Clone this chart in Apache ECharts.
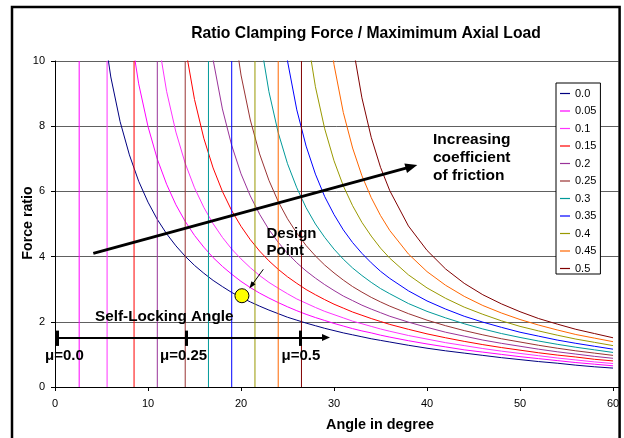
<!DOCTYPE html>
<html>
<head>
<meta charset="utf-8">
<script src="https://cdn.jsdelivr.net/npm/echarts@6/dist/echarts.min.js"></script>
<style>html,body{margin:0;padding:0;background:#fff}#c{width:624px;height:438px}</style>
</head>
<body>
<div id="c"></div>
<script>
const _ = null;
// angle in degree (x values shared by all curves)
const angles = [0,1,2,3,4,5,6,7,8,9,10,11,12,13,14,15,16,17,18,19,20,21,22,23,24,25,26,27,28,29,30,31,32,33,34,35,36,38,40,42,44,46,48,50,52,54,56,58,60];
// legend / series names (coefficient of friction)
const seriesNames = ['0.0','0.05','0.1','0.15','0.2','0.25','0.3','0.35','0.4','0.45','0.5'];
// force ratio (null = outside the plotted range)
const mu000 = [_,_,_,_,_,11.43,9.51,8.14,7.12,6.31,5.67,5.14,4.70,4.33,4.01,3.73,3.49,3.27,3.08,2.90,2.75,2.61,2.48,2.36,2.25,2.14,2.05,1.96,1.88,1.80,1.73,1.66,1.60,1.54,1.48,1.43,1.38,1.28,1.19,1.11,1.04,0.97,0.90,0.84,0.78,0.73,0.67,0.62,0.58];
const mu005 = [_,_,_,_,_,_,_,_,11.12,9.30,7.99,6.99,6.22,5.59,5.08,4.65,4.29,3.97,3.70,3.46,3.24,3.05,2.88,2.73,2.59,2.46,2.34,2.23,2.13,2.04,1.95,1.87,1.79,1.72,1.66,1.59,1.53,1.42,1.32,1.23,1.14,1.07,1.00,0.93,0.87,0.81,0.75,0.70,0.65];
const mu010 = [_,_,_,_,_,_,_,_,_,_,_,10.80,9.07,7.82,6.86,6.11,5.51,5.01,4.59,4.23,3.93,3.66,3.42,3.21,3.03,2.86,2.70,2.57,2.44,2.32,2.22,2.12,2.02,1.94,1.86,1.78,1.71,1.58,1.47,1.36,1.27,1.18,1.10,1.03,0.96,0.89,0.83,0.77,0.72];
const mu015 = [_,_,_,_,_,_,_,_,_,_,_,_,_,_,10.44,8.82,7.63,6.72,6.00,5.41,4.93,4.52,4.17,3.87,3.61,3.38,3.18,2.99,2.83,2.68,2.54,2.42,2.30,2.20,2.10,2.01,1.92,1.77,1.63,1.51,1.40,1.30,1.21,1.13,1.05,0.98,0.92,0.85,0.80];
const mu020 = [_,_,_,_,_,_,_,_,_,_,_,_,_,_,_,_,12.19,10.04,8.53,7.41,6.54,5.86,5.30,4.83,4.44,4.10,3.81,3.56,3.34,3.14,2.96,2.79,2.65,2.51,2.39,2.28,2.17,1.99,1.83,1.68,1.56,1.44,1.34,1.25,1.16,1.08,1.01,0.94,0.88];
const mu025 = [_,_,_,_,_,_,_,_,_,_,_,_,_,_,_,_,_,_,_,11.51,9.57,8.19,7.15,6.34,5.69,5.16,4.72,4.34,4.02,3.74,3.50,3.28,3.08,2.91,2.75,2.61,2.48,2.25,2.05,1.88,1.73,1.60,1.48,1.38,1.28,1.19,1.11,1.04,0.97];
const mu030 = [_,_,_,_,_,_,_,_,_,_,_,_,_,_,_,_,_,_,_,_,_,_,10.78,9.06,7.80,6.85,6.11,5.50,5.00,4.59,4.23,3.92,3.65,3.42,3.21,3.02,2.86,2.56,2.32,2.12,1.94,1.78,1.64,1.52,1.41,1.31,1.22,1.14,1.06];
const mu035 = [_,_,_,_,_,_,_,_,_,_,_,_,_,_,_,_,_,_,_,_,_,_,_,_,12.14,10.00,8.50,7.39,6.53,5.84,5.29,4.82,4.43,4.10,3.81,3.55,3.33,2.95,2.64,2.39,2.17,1.99,1.83,1.68,1.56,1.44,1.34,1.25,1.16];
const mu040 = [_,_,_,_,_,_,_,_,_,_,_,_,_,_,_,_,_,_,_,_,_,_,_,_,_,_,_,10.99,9.21,7.92,6.94,6.17,5.56,5.05,4.63,4.26,3.95,3.44,3.04,2.72,2.45,2.23,2.03,1.86,1.72,1.59,1.47,1.37,1.27];
const mu045 = [_,_,_,_,_,_,_,_,_,_,_,_,_,_,_,_,_,_,_,_,_,_,_,_,_,_,_,_,_,11.98,9.89,8.42,7.33,6.48,5.81,5.26,4.80,4.08,3.54,3.12,2.78,2.50,2.27,2.07,1.90,1.75,1.61,1.50,1.39];
const mu050 = [_,_,_,_,_,_,_,_,_,_,_,_,_,_,_,_,_,_,_,_,_,_,_,_,_,_,_,_,_,_,_,_,10.51,8.87,7.66,6.74,6.02,4.94,4.19,3.62,3.18,2.83,2.55,2.31,2.10,1.93,1.77,1.64,1.51];
// self-locking angle (vertical jump of each curve), degree
const lockAngles = [null,2.6,5.6,8.5,11.0,14.0,16.5,19.0,21.5,24.0,26.5];
// design point [angle, force ratio]
const designPoint = [20.1, 2.8];
// self-locking angle markers on the arrow
const lockMarkAngles = [0.2, 14.1, 26.4];
const lockMarkLabels = ['\u03bc=0.0', '\u03bc=0.25', '\u03bc=0.5'];
// axis ticks
const xTicks = {min:0, max:60.6, interval:10};
const yTicks = {min:0, max:10, interval:2};

const values = [mu000,mu005,mu010,mu015,mu020,mu025,mu030,mu035,mu040,mu045,mu050];
const colors = ['#000080','#FF00FF','#FF33FF','#FF0000','#993399','#993333','#009999','#0000FF','#999900','#FF6600','#800000'];
const FONT = '"Liberation Sans", Arial, sans-serif';

const series = seriesNames.map((name, i) => {
  const pts = [];
  if (lockAngles[i] !== null) {
    // vertical jump of the curve at the self-locking angle, then a break
    pts.push([lockAngles[i], yTicks.min], [lockAngles[i], yTicks.max], [lockAngles[i], null]);
  }
  angles.forEach((a, j) => { if (values[i][j] !== null) pts.push([a, values[i][j]]); });
  return {
    name: name, type: 'line', symbol: 'none', showSymbol: false, clip: true, connectNulls: false,
    lineStyle: {color: colors[i], width: 1}, itemStyle: {color: colors[i]},
    emphasis: {disabled: true}, z: 2, data: pts
  };
});

// annotation geometry in data coordinates
const bigArrow = {from: [4.12, 4.10], to: [38.33, 6.76]};
const lockArrow = {from: [0, 1.52], to: [29.14, 1.52]};
const lockMarkY = [1.26, 1.73];
const designArrow = {from: [22.4, 3.61], to: [21.12, 3.11]};

const annLines = [
  [{coord: bigArrow.from, symbol: 'none'}, {coord: bigArrow.to, symbol: 'triangle', symbolSize: [10, 12], lineStyle: {color: '#000', width: 3, type: 'solid'}}],
  [{coord: lockArrow.from, symbol: 'none'}, {coord: lockArrow.to, symbol: 'triangle', symbolSize: [7, 8], lineStyle: {color: '#000', width: 2, type: 'solid'}}],
  [{coord: designArrow.from, symbol: 'none'}, {coord: designArrow.to, symbol: 'triangle', symbolSize: [5, 7], lineStyle: {color: '#000', width: 1, type: 'solid'}}]
];
lockMarkAngles.forEach(a => {
  annLines.push([{coord: [a, lockMarkY[0]], symbol: 'none'}, {coord: [a, lockMarkY[1]], symbol: 'none', lineStyle: {color: '#000', width: 3, type: 'solid'}}]);
});
annLines.forEach(pair => { pair[0].lineStyle = pair[1].lineStyle; });

series.push({
  name: 'Design Point', type: 'scatter', data: [designPoint], symbol: 'circle', symbolSize: 14,
  itemStyle: {color: '#FFFF00', borderColor: '#000', borderWidth: 1, opacity: 1},
  emphasis: {disabled: true}, z: 10, silent: true,
  markLine: {silent: true, animation: false, z: 5, label: {show: false}, emphasis: {disabled: true},
    itemStyle: {color: '#000'}, lineStyle: {color: '#000', type: 'solid'}, data: annLines}
});

function txt(text, x, y, size, align, extra) {
  return Object.assign({type: 'text', x: x, y: y, silent: true, z: 50,
    style: {text: text, font: 'bold ' + size + 'px ' + FONT, fill: '#000',
      textAlign: align, textVerticalAlign: 'middle'}}, extra || {});
}

const graphics = [
  {type: 'rect', silent: true, z: 100, shape: {x: 12, y: 7, width: 607.6, height: 500},
    style: {fill: 'none', stroke: '#000', lineWidth: 2.5}},
  txt('Ratio Clamping Force / Maximimum Axial Load', 366, 33.5, 15.7, 'center'),
  txt('Force ratio', 28, 223, 14.2, 'center', {rotation: Math.PI / 2}),
  txt('Angle in degree', 380, 425, 14.4, 'center'),
  txt('Increasing', 433, 139.5, 15.5, 'left'),
  txt('coefficient', 433, 157.8, 15.5, 'left'),
  txt('of friction', 433, 176, 15.5, 'left'),
  txt('Design', 266.5, 233.5, 15, 'left'),
  txt('Point', 266.5, 251, 15, 'left'),
  txt('Self-Locking Angle', 95, 316.8, 15.3, 'left'),
  txt(lockMarkLabels[0], 45, 356, 15, 'left'),
  txt(lockMarkLabels[1], 160, 356, 15, 'left'),
  txt(lockMarkLabels[2], 281.5, 356, 15, 'left')
];

const chart = echarts.init(document.getElementById('c'), null, {renderer: 'canvas'});
chart.setOption({
  animation: false,
  backgroundColor: '#fff',
  textStyle: {fontFamily: FONT},
  grid: {left: 55, right: 5.4, top: 61, bottom: 51, containLabel: false, outerBoundsMode: 'none'},
  legend: {
    data: seriesNames, orient: 'vertical', left: 556, top: 83,
    padding: [5, 4, 0, 4], itemWidth: 10, itemHeight: 10, itemGap: 6.5,
    icon: 'path://M0,0h10v1.2h-10z', symbolKeepAspect: true,
    backgroundColor: '#fff', borderColor: '#000', borderWidth: 1, borderRadius: 0,
    selectedMode: false, z: 20,
    textStyle: {fontSize: 11, color: '#000', fontFamily: FONT}
  },
  xAxis: {
    type: 'value', min: xTicks.min, max: xTicks.max, interval: xTicks.interval,
    axisLine: {show: true, onZero: true, lineStyle: {color: '#000', width: 1}},
    axisTick: {show: true, inside: false, length: 4, lineStyle: {color: '#000'}},
    axisLabel: {fontSize: 11, color: '#000', margin: 11, showMaxLabel: false, fontFamily: FONT},
    splitLine: {show: false}
  },
  yAxis: {
    type: 'value', min: yTicks.min, max: yTicks.max, interval: yTicks.interval,
    axisLine: {show: true, lineStyle: {color: '#000', width: 1}},
    axisTick: {show: true, inside: false, length: 4, lineStyle: {color: '#000'}},
    axisLabel: {fontSize: 11, color: '#000', margin: 10, fontFamily: FONT},
    splitLine: {show: true, lineStyle: {color: '#606060', width: 1}}
  },
  series: series,
  graphic: graphics
});
</script>
</body>
</html>
